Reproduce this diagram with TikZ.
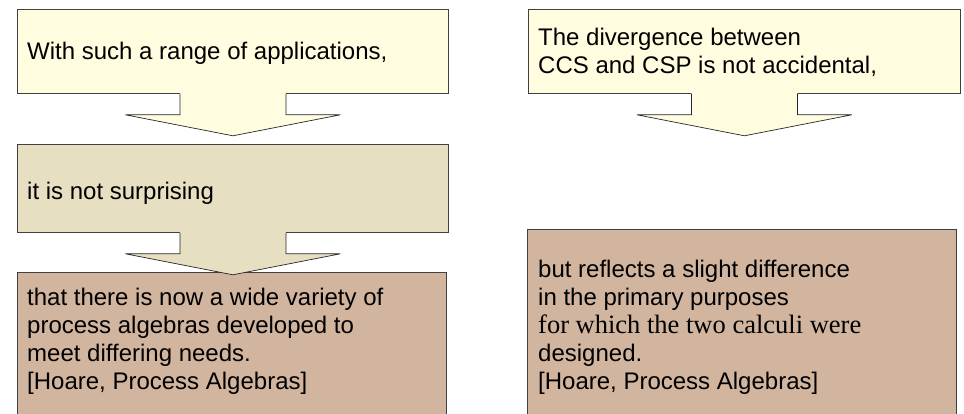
\documentclass[tikz,border=0pt]{standalone}
\usepackage{fontspec}
\setmainfont{Liberation Sans}
\newfontfamily\serifline{Liberation Serif}
\usetikzlibrary{positioning,calc}

%flecha de bloque bajo una caja
\newcommand{\blockarrow}[2]{%
  \fill[#2] ($(#1.south)+(-53,-1)$) -- ($(#1.south)+(-53,21)$) -- ($(#1.south)+(-107.5,21)$)
    -- ($(#1.south)+(0,42)$) -- ($(#1.south)+(107.5,21)$) -- ($(#1.south)+(53,21)$)
    -- ($(#1.south)+(53,-1)$) -- cycle;
  \draw[arrowline] ($(#1.south)+(-53,0)$) -- ($(#1.south)+(-53,21)$) -- ($(#1.south)+(-107.5,21)$)
    -- ($(#1.south)+(0,42)$) -- ($(#1.south)+(107.5,21)$) -- ($(#1.south)+(53,21)$)
    -- ($(#1.south)+(53,0)$);
}

\begin{document}
\begin{tikzpicture}[x=1pt,y=-1pt,
    quotebox/.style={draw=black!75, line width=0.8pt, anchor=north west, inner sep=0pt},
    arrowline/.style={draw=black!85, line width=0.7pt, line join=miter},
    quotetext/.style={inner sep=0pt, align=left, font=\fontsize{24}{28}\selectfont}]
        %colores
        \definecolor{paleyellow}{HTML}{FFFCE0}
        \definecolor{beige}{HTML}{E6DFC2}
        \definecolor{tan}{HTML}{D2B59F}

        \useasboundingbox (0,0) rectangle (964,414);
        \clip (0,0) rectangle (964,414);

        %cajas izquierda
        \node[quotebox, fill=paleyellow, minimum width=431pt, minimum height=84pt] (b1) at (17,9) {};
        \node[quotebox, fill=beige, minimum width=431pt, minimum height=88pt] (b2) at (17,144) {};
        \node[quotebox, fill=tan, minimum width=429pt, minimum height=160pt] (b3) at (17,272) {};

        %cajas derecha
        \node[quotebox, fill=paleyellow, minimum width=432pt, minimum height=84pt] (b4) at (528,9) {};
        \node[quotebox, fill=tan, minimum width=429pt, minimum height=200pt] (b5) at (527,229) {};

        %flechas
        \blockarrow{b1}{paleyellow}
        \blockarrow{b2}{beige}
        \blockarrow{b4}{paleyellow}

        %textos
        \node[quotetext, below right=30.4pt and 10pt of b1.north west] (t1) {\strut With such a range of applications,};
        \node[quotetext, below right=35.6pt and 10pt of b2.north west] (t2) {\strut it is not surprising};
        \node[quotetext, below right=13.6pt and 10pt of b3.north west] (t3) {\strut that there is now a wide variety of\\
            process algebras developed to\\
            meet differing needs.\\
            {[}Hoare, Process Algebras{]}};
        \node[quotetext, below right=16.4pt and 10pt of b4.north west] (t4) {\strut The divergence between\\
            CCS and CSP is not accidental,};
        \node[quotetext, below right=28.4pt and 11pt of b5.north west] (t5) {\strut but reflects a slight difference\\
            in the primary purposes\\
            {\serifline\fontsize{26.5}{28}\selectfont for which the two calculi were}\\
            designed.\\
            {[}Hoare, Process Algebras{]}};
    \end{tikzpicture}
\end{document}
